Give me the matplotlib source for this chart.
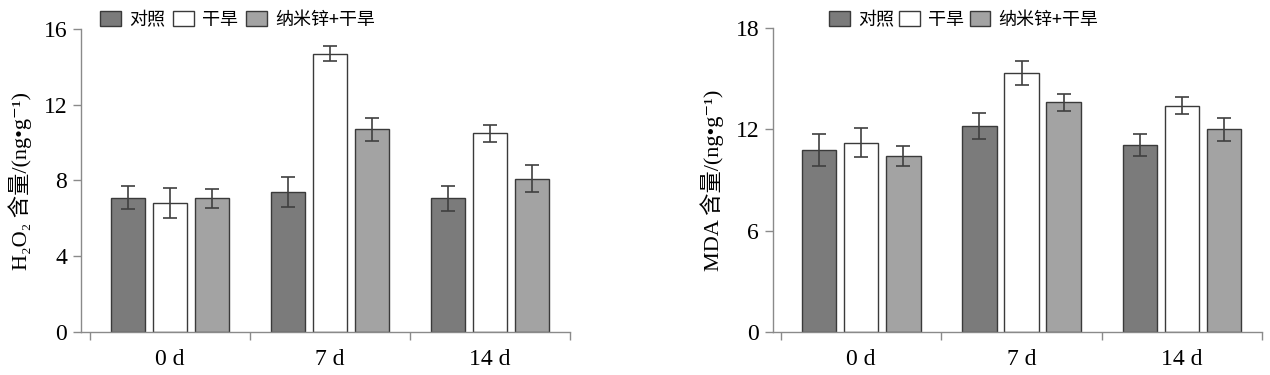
import matplotlib
matplotlib.use("Agg")
import matplotlib.pyplot as plt
import numpy as np

plt.rcParams['font.family'] = ['Liberation Serif', 'Noto Sans CJK SC', 'DejaVu Serif']

categories = ["0 d", "7 d", "14 d"]
series_names = ["对照", "干旱", "纳米锌+干旱"]

h2o2_ctrl = [7.1, 7.4, 7.05]
h2o2_drought = [6.8, 14.7, 10.5]
h2o2_nano = [7.05, 10.7, 8.1]
h2o2_ctrl_err = [0.6, 0.8, 0.65]
h2o2_drought_err = [0.8, 0.4, 0.45]
h2o2_nano_err = [0.5, 0.6, 0.7]

mda_ctrl = [10.8, 12.2, 11.1]
mda_drought = [11.2, 15.35, 13.4]
mda_nano = [10.4, 13.6, 12.0]
mda_ctrl_err = [0.95, 0.75, 0.65]
mda_drought_err = [0.85, 0.7, 0.5]
mda_nano_err = [0.6, 0.5, 0.7]

colors = ["#7b7b7b", "#ffffff", "#a3a3a3"]
edge = "#3a3a3a"
axis_color = "#8a8a8a"

fig = plt.figure(figsize=(12.7, 3.75), dpi=100)

def panel(rect, data, errs, ylim, yticks, ylabel, xleft, legend_x, colspace):
    ax = fig.add_axes(rect)
    x = np.arange(len(categories))
    offsets = [-0.2625, 0.0, 0.2625]
    width = 0.215
    handles = []
    for vals, err, off, c, name in zip(data, errs, offsets, colors, series_names):
        b = ax.bar(x + off, vals, width, color=c, edgecolor=edge, linewidth=1.0,
                   label=name, zorder=2)
        ax.errorbar(x + off, vals, yerr=err, fmt='none', ecolor="#404040",
                    elinewidth=1.2, capsize=5, capthick=1.2, zorder=3)
        handles.append(b)
    ax.set_xlim(xleft, 2.5)
    ax.set_ylim(*ylim)
    ax.set_yticks(yticks)
    ax.set_yticklabels([str(t) for t in yticks], fontsize=17)
    ax.set_xticks(x)
    ax.set_xticklabels(categories, fontsize=17)
    ax.tick_params(axis='x', which='major', length=0, pad=12)
    ax.set_xticks([-0.5, 0.5, 1.5, 2.5], minor=True)
    ax.tick_params(axis='x', which='minor', length=6, direction='out', color=axis_color, width=1.0)
    ax.tick_params(axis='y', length=6, direction='out', color=axis_color, width=1.0, pad=4)
    for s in ['top', 'right']:
        ax.spines[s].set_visible(False)
    for s in ['left', 'bottom']:
        ax.spines[s].set_color(axis_color)
        ax.spines[s].set_linewidth(1.0)
    ax.set_ylabel(ylabel, fontsize=16, labelpad=8)
    fig.legend(handles=handles, labels=series_names, loc='center left',
               bbox_to_anchor=(legend_x, 0.947), ncol=3, frameon=False,
               prop={'family': ['Noto Sans CJK SC'], 'size': 13},
               handlelength=1.15, handleheight=0.9, handletextpad=0.45,
               columnspacing=colspace, borderpad=0, borderaxespad=0)
    return ax

panel([81/1270, 43/375, 489/1270, 303/375],
      [h2o2_ctrl, h2o2_drought, h2o2_nano],
      [h2o2_ctrl_err, h2o2_drought_err, h2o2_nano_err],
      (0, 16), [0, 4, 8, 12, 16],
      "H₂O₂ 含量/(ng•g⁻¹)", -0.556, 100/1270, 0.45)

panel([773/1270, 43/375, 489/1270, 304/375],
      [mda_ctrl, mda_drought, mda_nano],
      [mda_ctrl_err, mda_drought_err, mda_nano_err],
      (0, 18), [0, 6, 12, 18],
      "MDA 含量/(ng•g⁻¹)", -0.55, 829/1270, 0.3)

fig.savefig("out.png", dpi=100)
